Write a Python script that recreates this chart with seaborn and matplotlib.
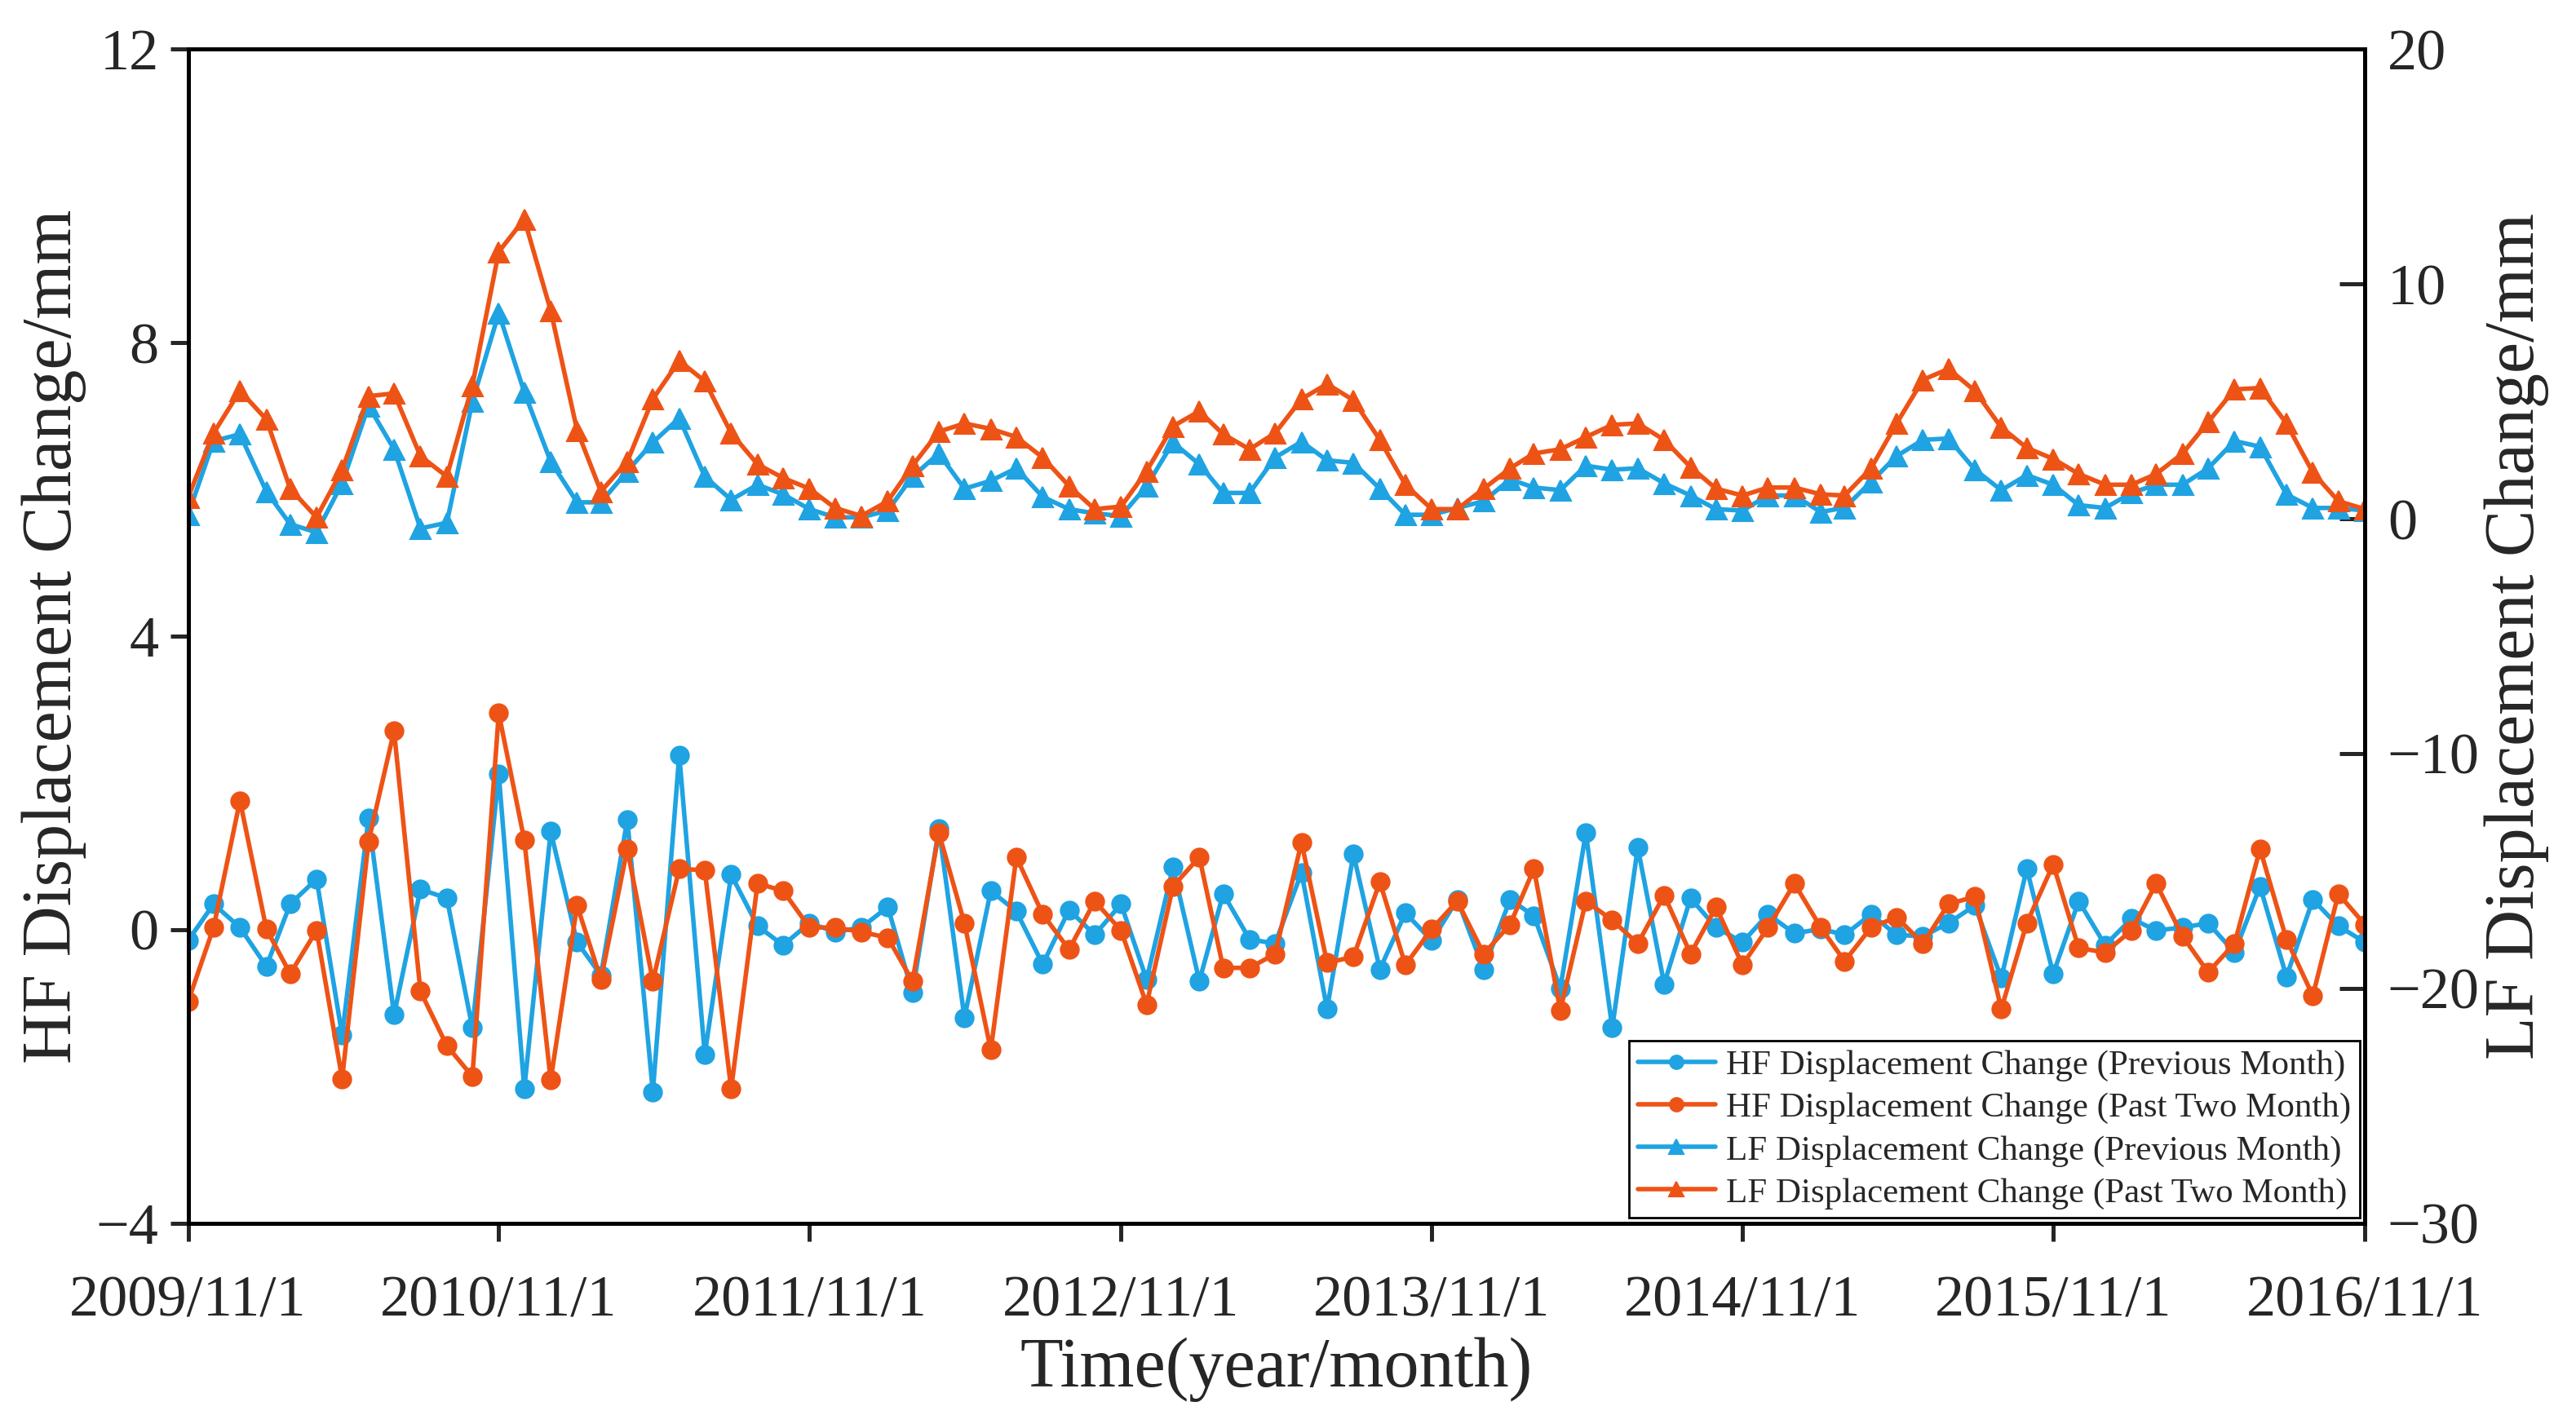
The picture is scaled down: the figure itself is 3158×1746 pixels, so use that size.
import numpy as np
import pandas as pd
import matplotlib
matplotlib.use("Agg")
import matplotlib.pyplot as plt
import seaborn as sns

# Fechas mensuales 2009/11 - 2016/11
months = pd.date_range("2009-11-01", "2016-11-01", freq="MS")
tick_dates = pd.date_range("2009-11-01", "2016-11-01", freq="12MS")
tick_labels = ["2009/11/1", "2010/11/1", "2011/11/1", "2012/11/1",
               "2013/11/1", "2014/11/1", "2015/11/1", "2016/11/1"]

# HF (eje izquierdo)
hf_prev = [-0.15, 0.35, 0.03, -0.50, 0.35, 0.69, -1.44, 1.52, -1.16, 0.55, 0.43, -1.34,
           2.12, -2.17, 1.34, -0.17, -0.62, 1.50, -2.21, 2.38, -1.70, 0.75,
           0.05, -0.21, 0.09, -0.03, 0.03, 0.31, -0.86, 1.38, -1.20, 0.53, 0.25, -0.47,
           0.27, -0.07, 0.35, -0.68, 0.85, -0.70, 0.49, -0.13, -0.19,
           0.78, -1.08, 1.03, -0.54, 0.23, -0.15, 0.41, -0.54, 0.41, 0.19, -0.80, 1.32,
           -1.34, 1.12, -0.74, 0.43, 0.03, -0.17, 0.21, -0.05, 0.01,
           -0.07, 0.21, -0.07, -0.09, 0.09, 0.33, -0.66, 0.83, -0.60, 0.39, -0.21, 0.15,
           -0.01, 0.03, 0.09, -0.31, 0.59, -0.64, 0.41, 0.05, -0.17]
hf_two = [-0.98, 0.03, 1.76, 0.01, -0.60, -0.01, -2.03, 1.20, 2.71, -0.84, -1.58, -2.00,
          2.95, 1.22, -2.05, 0.33, -0.68, 1.10, -0.70, 0.83, 0.81, -2.17,
          0.63, 0.53, 0.03, 0.03, -0.03, -0.11, -0.70, 1.32, 0.09, -1.64, 0.99, 0.21,
          -0.27, 0.39, -0.01, -1.02, 0.59, 0.99, -0.52, -0.52, -0.33,
          1.19, -0.45, -0.37, 0.65, -0.48, 0.01, 0.39, -0.33, 0.07, 0.83, -1.10, 0.39,
          0.13, -0.19, 0.47, -0.33, 0.31, -0.48, 0.03, 0.63, 0.03,
          -0.43, 0.03, 0.17, -0.19, 0.35, 0.45, -1.08, 0.09, 0.89, -0.25, -0.31, -0.01,
          0.63, -0.09, -0.58, -0.19, 1.10, -0.13, -0.90, 0.49, 0.07]

# LF (eje derecho)
lf_prev = [0.17, 3.31, 3.60, 1.16, -0.23, -0.58, 1.51, 4.81, 2.96, -0.41, -0.17, 4.99,
           8.76, 5.39, 2.44, 0.70, 0.70, 2.03, 3.25, 4.29, 1.80, 0.81,
           1.45, 1.04, 0.41, 0.06, 0.06, 0.35, 1.80, 2.78, 1.28, 1.62, 2.15, 0.93,
           0.41, 0.23, 0.12, 1.39, 3.25, 2.32, 1.10, 1.10, 2.61,
           3.28, 2.49, 2.38, 1.28, 0.17, 0.17, 0.46, 0.75, 1.68, 1.33, 1.22, 2.26,
           2.09, 2.15, 1.51, 0.99, 0.41, 0.35, 0.99, 0.99, 0.29,
           0.47, 1.57, 2.67, 3.36, 3.42, 2.09, 1.22, 1.86, 1.45, 0.58, 0.46, 1.10,
           1.45, 1.45, 2.15, 3.31, 3.07, 1.04, 0.46, 0.46, 0.35]
lf_two = [0.90, 3.65, 5.45, 4.23, 1.28, 0.06, 2.09, 5.22, 5.34, 2.67, 1.80, 5.68,
          11.37, 12.76, 8.87, 3.77, 1.16, 2.44, 5.10, 6.73, 5.86, 3.65,
          2.32, 1.74, 1.28, 0.46, 0.12, 0.75, 2.26, 3.71, 4.06, 3.83, 3.48, 2.61,
          1.39, 0.41, 0.52, 2.03, 3.94, 4.58, 3.60, 2.96, 3.65,
          5.10, 5.74, 5.05, 3.36, 1.45, 0.41, 0.41, 1.28, 2.15, 2.78, 2.96, 3.48,
          4.00, 4.06, 3.36, 2.20, 1.28, 0.99, 1.33, 1.33, 1.04,
          0.99, 2.15, 4.06, 5.92, 6.38, 5.45, 3.89, 3.02, 2.55, 1.91, 1.45, 1.45,
          1.91, 2.78, 4.12, 5.51, 5.57, 4.06, 1.97, 0.75, 0.41]

blue = "#1FA3E2"
orange = "#EE5316"

sns.set_style("ticks")
plt.rcParams["font.family"] = ["Liberation Serif", "DejaVu Serif"]

fig, ax = plt.subplots(figsize=(15.79, 8.73), dpi=200)
fig.subplots_adjust(left=0.073, right=0.918, top=0.9655, bottom=0.141)

sns.lineplot(x=months, y=hf_prev, ax=ax, color=blue, marker="o", markersize=8,
             markeredgecolor=blue, linewidth=2, label="HF Displacement Change (Previous Month)")
sns.lineplot(x=months, y=hf_two, ax=ax, color=orange, marker="o", markersize=8,
             markeredgecolor=orange, linewidth=2, label="HF Displacement Change (Past Two Month)")

ax2 = ax.twinx()
sns.lineplot(x=months, y=lf_prev, ax=ax2, color=blue, marker="^", markersize=9,
             markeredgecolor=blue, linewidth=2, label="LF Displacement Change (Previous Month)")
sns.lineplot(x=months, y=lf_two, ax=ax2, color=orange, marker="^", markersize=9,
             markeredgecolor=orange, linewidth=2, label="LF Displacement Change (Past Two Month)")

ax.set_xlim(months[0], months[-1])
ax.set_ylim(-4, 12)
ax.set_yticks([-4, 0, 4, 8, 12])
ax2.set_ylim(-30, 20)
ax2.set_yticks([-30, -20, -10, 0, 10, 20])
ax.set_xticks(tick_dates)
ax.set_xticklabels(tick_labels)

ax.set_xlabel("Time(year/month)", fontsize=31, labelpad=4)
ax.set_ylabel("HF Displacement Change/mm", fontsize=31, labelpad=4)
ax2.set_ylabel("LF Displacement Change/mm", fontsize=31, labelpad=2)

ax.tick_params(axis="both", labelsize=26, direction="out", length=8, width=1.8, pad=5)
ax.tick_params(axis="x", pad=15)
ax2.tick_params(axis="y", labelsize=26, direction="in", length=11, width=1.8, pad=10)

for a in (ax, ax2):
    for sp in a.spines.values():
        sp.set_linewidth(1.8)
        sp.set_color("black")

h1, l1 = ax.get_legend_handles_labels()
h2, l2 = ax2.get_legend_handles_labels()
if ax.get_legend() is not None:
    ax.get_legend().remove()
leg = ax2.legend(h1 + h2, l1 + l2, loc="lower right", fontsize=15.5, frameon=True,
                 fancybox=False, edgecolor="black", handlelength=2.2, handletextpad=0.3,
                 borderpad=0.25, labelspacing=0.3, borderaxespad=0.15, markerscale=0.75)
leg.get_frame().set_linewidth(1.0)
leg.get_frame().set_alpha(1)

fig.savefig("out.png", dpi=200)
